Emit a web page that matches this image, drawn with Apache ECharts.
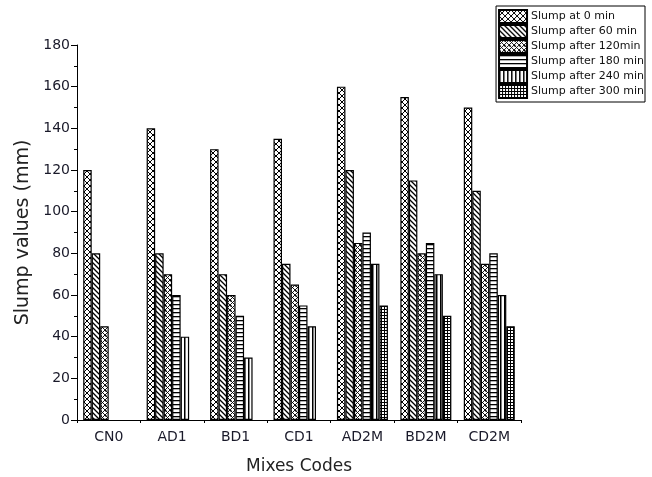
<!DOCTYPE html>
<html><head><meta charset="utf-8">
<script src="https://cdn.jsdelivr.net/npm/echarts@6/dist/echarts.min.js"></script>
<style>html,body{margin:0;padding:0;background:#fff}#c{width:652px;height:477px}</style>
</head><body><div id="c"></div>
<script>
const categories = ['CN0','AD1','BD1','CD1','AD2M','BD2M','CD2M'];
const seriesNames = ['Slump at 0 min','Slump after 60 min','Slump after 120min','Slump after 180 min','Slump after 240 min','Slump after 300 min'];
const slump0   = [120, 140, 130, 135, 160, 155, 150];
const slump60  = [80, 80, 70, 75, 120, 115, 110];
const slump120 = [45, 70, 60, 65, 85, 80, 75];
const slump180 = [null, 60, 50, 55, 90, 85, 80];
const slump240 = [null, 40, 30, 45, 75, 70, 60];
const slump300 = [null, null, null, null, 55, 50, 45];
const yTicks = [0, 20, 40, 60, 80, 100, 120, 140, 160, 180];

function tile(w, h, draw) {
  const c = document.createElement('canvas');
  c.width = w; c.height = h;
  const g = c.getContext('2d');
  g.fillStyle = '#fff'; g.fillRect(0, 0, w, h);
  g.strokeStyle = '#000'; g.fillStyle = '#000';
  draw(g, w, h);
  return {image: c, repeat: 'repeat'};
}
const patterns = [
  tile(6, 6, (g, w, h) => { g.lineWidth = 1; g.beginPath(); g.moveTo(0,0); g.lineTo(w,h); g.moveTo(w,0); g.lineTo(0,h); g.stroke(); g.fillRect(w/2-1, h/2-1, 2, 2); }),
  tile(5, 5, (g, w, h) => { g.lineWidth = 1.3; g.beginPath(); g.moveTo(-1,-1); g.lineTo(w+1,h+1); g.moveTo(-1,h-1); g.lineTo(1,h+1); g.moveTo(w-1,-1); g.lineTo(w+1,1); g.stroke(); }),
  tile(5, 5, (g, w, h) => { g.lineWidth = 0.9; g.beginPath(); g.moveTo(0,0); g.lineTo(w,h); g.moveTo(w,0); g.lineTo(0,h); g.stroke(); g.fillRect(0, 0, 1.5, 1.5); }),
  tile(4, 4, (g, w, h) => { g.fillRect(0, 0, w, 1.3); }),
  tile(4, 4, (g, w, h) => { g.fillRect(0, 0, 1.5, h); }),
  tile(3, 3, (g, w, h) => { g.fillRect(0, 0, w, 1); g.fillRect(0, 0, 1, h); })
];
const values = [slump0, slump60, slump120, slump180, slump240, slump300];
const font = 'DejaVu Sans, sans-serif';

const chart = echarts.init(document.getElementById('c'), null, {renderer: 'canvas'});
chart.setOption({
  animation: false,
  backgroundColor: '#fff',
  grid: {left: 77, right: 131, top: 45, bottom: 57, outerBoundsMode: 'none', containLabel: false},
  legend: {
    orient: 'vertical', right: 7, top: 6,
    itemWidth: 28, itemHeight: 13, itemGap: 0,
    icon: 'rect',
    borderColor: '#000', borderWidth: 1, padding: [3, 1, 3, 2],
    textStyle: {fontSize: 11, lineHeight: 13, fontFamily: font, color: '#111', padding: [0, 0, 0, -1]},
    data: seriesNames
  },
  xAxis: [{
    type: 'category', data: categories,
    axisLine: {lineStyle: {color: '#000', width: 1}},
    axisTick: {alignWithLabel: true, length: 6, lineStyle: {color: '#000'}},
    axisLabel: {fontSize: 14, fontFamily: font, color: '#1a1a2a', margin: 10},
    name: 'Mixes Codes', nameLocation: 'middle', nameGap: 38,
    nameTextStyle: {fontSize: 17, fontFamily: font, color: '#222'}
  }, {
    type: 'category', data: categories, position: 'bottom',
    axisLine: {show: false},
    axisTick: {show: true, length: 3, lineStyle: {color: '#000'}},
    axisLabel: {show: false}
  }],
  yAxis: {
    type: 'value', min: yTicks[0], max: yTicks[yTicks.length - 1], interval: 20,
    axisLine: {show: true, lineStyle: {color: '#000', width: 1}},
    axisTick: {show: true, length: 6, lineStyle: {color: '#000'}},
    minorTick: {show: true, splitNumber: 2, length: 3, lineStyle: {color: '#000'}},
    splitLine: {show: false},
    axisLabel: {fontSize: 14, fontFamily: font, color: '#1a1a2a', margin: 7},
    name: 'Slump values (mm)', nameLocation: 'middle', nameGap: 44,
    nameTextStyle: {fontSize: 19, fontFamily: font, color: '#222'}
  },
  series: values.map((v, i) => ({
    name: seriesNames[i], type: 'bar', data: v,
    xAxisIndex: 0,
    barWidth: 8.5, barGap: '0%',
    itemStyle: {color: patterns[i], borderColor: '#000', borderWidth: 1.2}
  }))
});
</script></body></html>
